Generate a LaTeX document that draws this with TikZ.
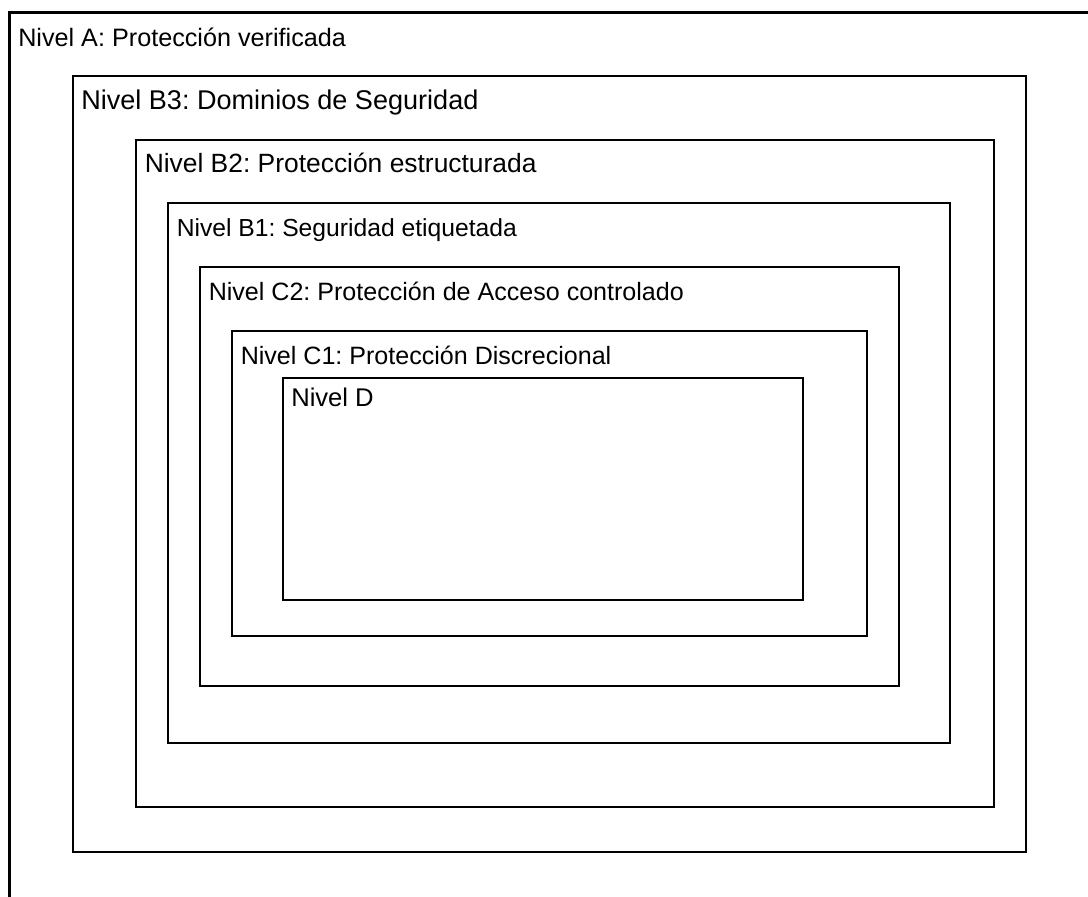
\documentclass[tikz,border=0pt]{standalone}
\usepackage{fontspec}
\setmainfont{Liberation Sans}
\frenchspacing
\newcommand{\lvlsize}[1]{\fontsize{#1}{#1}\selectfont}
\begin{document}
\begin{tikzpicture}[x=0.75pt,y=-0.75pt,
  levelbox/.style={draw=black,line width=1.6pt,fill=none},
  levellabel/.style={anchor=base west,inner sep=0pt}]
\useasboundingbox (0,0) rectangle (1088,896);
\clip (0,0) rectangle (1088,896);
% corners
\coordinate (A1) at (9.5,12.5);  \coordinate (A2) at (1100,910);
\coordinate (B31) at (73,76);    \coordinate (B32) at (1026,852);
\coordinate (B21) at (136,140);  \coordinate (B22) at (994,807);
\coordinate (B11) at (168,203);  \coordinate (B12) at (950,743);
\coordinate (C21) at (200,267);  \coordinate (C22) at (899,686);
\coordinate (C11) at (232,331);  \coordinate (C12) at (867,636);
\coordinate (D1) at (283,378);   \coordinate (D2) at (803,600);
\draw[levelbox] (A1) rectangle (A2);
\draw[levelbox] (B31) rectangle (B32);
\draw[levelbox] (B21) rectangle (B22);
\draw[levelbox] (B11) rectangle (B12);
\draw[levelbox] (C21) rectangle (C22);
\draw[levelbox] (C11) rectangle (C12);
\draw[levelbox] (D1) rectangle (D2);
\node[levellabel,font=\lvlsize{18.9pt}] (lA) at ([shift={(8.5,33.5)}]A1) {Nivel A: Protección verificada};
\node[levellabel,font=\lvlsize{20.3pt}] (lB3) at ([shift={(8.0,33)}]B31) {Nivel B3: Dominios de Seguridad};
\node[levellabel,font=\lvlsize{19.8pt}] (lB2) at ([shift={(8.5,32.5)}]B21) {Nivel B2: Protección estructurada};
\node[levellabel,font=\lvlsize{18.5pt}] (lB1) at ([shift={(8.5,33)}]B11) {Nivel B1: Seguridad etiquetada};
\node[levellabel,font=\lvlsize{18.8pt}] (lC2) at ([shift={(8.5,33)}]C21) {Nivel C2: Protección de Acceso controlado};
\node[levellabel,font=\lvlsize{18.8pt}] (lC1) at ([shift={(8.5,33.3)}]C11) {Nivel C1: Protección Discrecional};
\node[levellabel,font=\lvlsize{19.2pt}] (lD) at ([shift={(8.0,28.7)}]D1) {Nivel D};
\end{tikzpicture}
\end{document}
